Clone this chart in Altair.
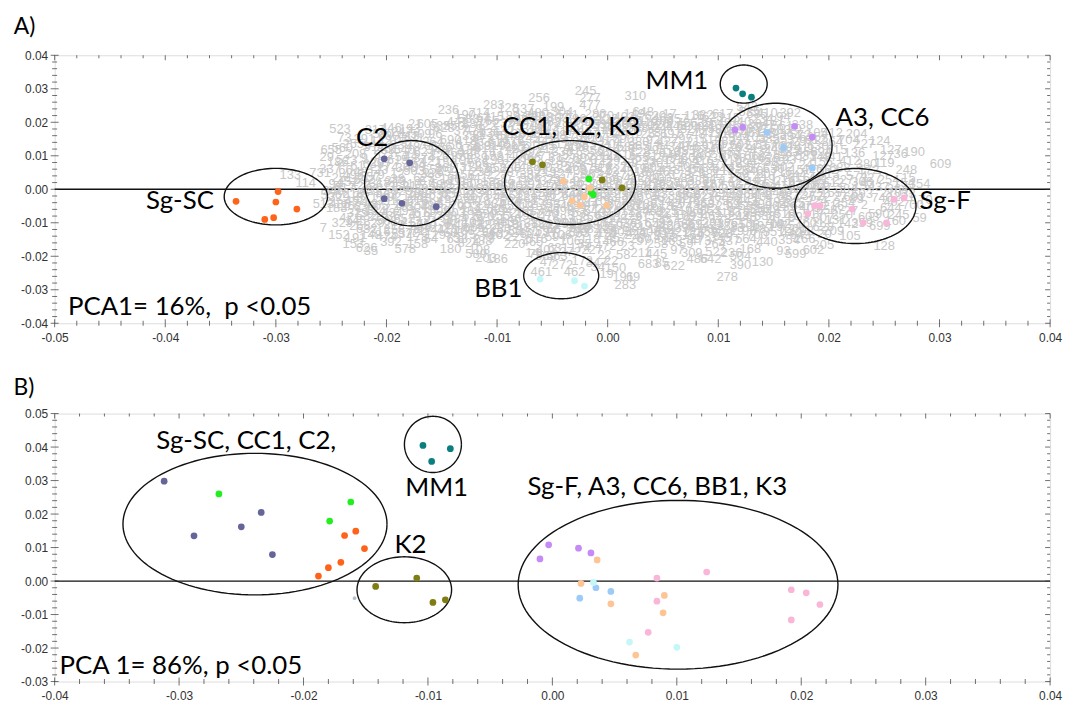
import altair as alt
import numpy as np
import pandas as pd

LABEL_FONT = "Lato"
AXIS_FONT = "Liberation Sans"
W, H = 1003, 270
TICK_COLOR = "#333333"

GROUPS = ["Sg-SC", "C2", "CC1", "K2", "K3", "BB1", "MM1", "A3", "CC6", "Sg-F", "faint"]
COLORS = ["#FF6319", "#65659A", "#22EE22", "#7E7E12", "#FDC596", "#C4F8F8",
          "#0B7F7F", "#C58AF5", "#9DCBF8", "#F9B6D8", "#B4C0CE"]

# ---------------- Panel A : coloured samples ----------------
a_grp = (["Sg-SC"] * 6 + ["C2"] * 5 + ["K2"] * 4 + ["CC1"] * 3 + ["K3"] * 6 +
         ["BB1"] * 3 + ["MM1"] * 3 + ["A3"] * 4 + ["CC6"] * 3 + ["Sg-F"] * 8)
a_x = [-0.0336, -0.0298, -0.0300, -0.0281, -0.0310, -0.0302,
       -0.0202, -0.0179, -0.0202, -0.0186, -0.0155,
       -0.0068, -0.0059, -0.0005, 0.0013,
       -0.0017, -0.0015, -0.0013,
       -0.0040, -0.0016, -0.0021, -0.0032, -0.0025, -0.0001,
       -0.0061, -0.0030, -0.0021,
       0.0116, 0.0122, 0.0130,
       0.0115, 0.0122, 0.0169, 0.0185,
       0.0144, 0.0159, 0.0185,
       0.0187, 0.0192, 0.0181, 0.0221, 0.0231, 0.0252, 0.0259, 0.0268]
a_y = [-0.0036, -0.0007, -0.0038, -0.0059, -0.0090, -0.0085,
       0.0091, 0.0079, -0.0028, -0.0042, -0.0052,
       0.0082, 0.0073, 0.0028, 0.0004,
       0.0031, -0.0009, -0.0016,
       0.0024, 0.0004, -0.0022, -0.0035, -0.0048, -0.0048,
       -0.0268, -0.0273, -0.0289,
       0.0302, 0.0285, 0.0275,
       0.0177, 0.0185, 0.0188, 0.0156,
       0.0170, 0.0124, 0.0063,
       -0.0049, -0.0049, -0.0073, -0.0059, -0.0100, -0.0100, -0.0030, -0.0026]

a_ell_name = ["Sg-SC", "C2", "CC1K2K3", "BB1", "MM1", "A3CC6", "Sg-F"]
a_ell_cx = [-0.0300, -0.0177, -0.0034, -0.0042, 0.0123, 0.0152, 0.0224]
a_ell_cy = [-0.0022, 0.0018, 0.0020, -0.0258, 0.0314, 0.0130, -0.0050]
a_ell_rx = [0.00467, 0.00428, 0.00592, 0.00339, 0.00212, 0.00509, 0.00548]
a_ell_ry = [0.00844, 0.01274, 0.01253, 0.00690, 0.00569, 0.01268, 0.01120]

a_ann_text = ["Sg-SC", "C2", "CC1, K2, K3", "BB1", "MM1", "A3, CC6", "Sg-F",
              "PCA1= 16%,\u00a0 p <0.05"]
a_ann_x = [-0.0356, -0.0213, -0.0033, -0.0077, 0.0091, 0.0206, 0.0282, -0.0488]
a_ann_y = [-0.0058, 0.0129, 0.0163, -0.0321, 0.0300, 0.0190, -0.0058, -0.0375]
a_ann_align = ["right", "center", "center", "right", "right", "left", "left", "left"]
a_panel_label = ("A)", -0.0537, 0.0463)

# ---------------- Panel A : grey sample numbers (x, y in 1/1000) ----------------
gray_top = [
    (-2.0, 29.4, "245"), (-1.6, 27.2, "277"), (-1.6, 25.0, "477"), (-6.2, 27.2, "256"), (2.5, 27.7, "310"),
    (-4.9, 24.7, "199"), (-4.1, 23.2, "304"), (-1.1, 22.5, "286"), (-10.3, 25.0, "283"), (-9.0, 24.4, "128"),
    (-7.6, 24.0, "537"), (-6.3, 22.9, "480"), (-14.4, 23.8, "236"), (-12.9, 22.3, "190"), (-11.6, 22.8, "714"),
    (-10.3, 21.6, "115"), (-8.9, 22.0, "189"), (-7.5, 21.2, "366"), (-5.9, 21.7, "108"), (-4.5, 21.3, "303"),
    (-2.9, 21.0, "296"), (-1.5, 20.4, "613"), (0.0, 21.0, "122"), (1.5, 21.6, "402"), (3.2, 23.1, "648"),
    (4.3, 21.9, "620"), (5.6, 22.6, "17"), (6.3, 21.0, "357"), (7.8, 22.0, "116"), (9.5, 21.5, "623"),
    (11.0, 21.3, "215"), (12.6, 24.7, "543"), (12.8, 23.1, "535"), (14.4, 22.8, "410"), (15.9, 21.5, "94"),
    (16.5, 22.8, "392"), (13.5, 22.4, "685"), (15.0, 20.4, "181"), (-17.4, 19.5, "21"), (-16.3, 19.5, "605"),
    (-15.2, 18.9, "635"), (-24.2, 18.1, "523"),
]
gray_row18 = [
    (-18.6, 17.2, "247"), (-16.9, 16.6, "509"), (-14.8, 18.3, "628"), (-13.3, 17.4, "37"), (-12.0, 17.8, "478"),
    (-10.7, 16.7, "136"), (-9.4, 17.3, "132"), (-8.1, 16.4, "28"), (-6.8, 18.1, "312"), (-5.4, 18.5, "203"),
    (-4.0, 17.2, "617"), (-2.4, 17.6, "147"), (-1.0, 16.1, "577"), (0.3, 18.4, "704"), (1.6, 19.2, "660"),
    (2.7, 18.2, "548"), (3.9, 18.9, "702"), (5.0, 18.2, "244"), (6.2, 18.8, "448"), (7.5, 17.9, "327"),
    (8.8, 18.5, "481"), (10.0, 18.0, "596"), (11.2, 17.3, "29"), (12.5, 18.0, "76"), (14.2, 18.2, "311"),
    (15.6, 17.6, "583"), (16.9, 18.0, "70"), (18.9, 16.8, "105"), (20.3, 16.8, "412"), (22.5, 16.5, "204"),
]
gray_row15 = [
    (-23.8, 15.3, "73"), (-22.0, 14.9, "291"), (-20.5, 14.3, "142"), (-19.0, 14.7, "107"), (-17.5, 15.2, "611"),
    (-15.8, 14.1, "264"), (-14.2, 14.8, "690"), (-12.8, 14.3, "418"), (-11.3, 15.1, "473"), (-9.9, 14.0, "619"),
    (-8.5, 14.6, "178"), (-7.1, 15.3, "245"), (-5.7, 14.4, "441"), (-4.3, 15.0, "63"), (-2.9, 14.2, "509"),
    (-1.5, 15.2, "600"), (0.0, 14.4, "317"), (1.4, 15.0, "590"), (2.8, 14.2, "380"), (4.1, 14.8, "92"),
    (5.4, 14.1, "427"), (6.7, 14.9, "297"), (8.0, 14.2, "211"), (9.3, 14.9, "514"), (10.6, 14.3, "283"),
    (11.9, 15.2, "344"), (13.3, 15.6, "705"), (14.6, 15.0, "385"), (15.9, 14.6, "353"), (17.3, 14.1, "29"),
    (18.8, 14.8, "612"), (20.3, 14.0, "364"), (21.8, 14.6, "704"), (24.6, 14.4, "124"), (23.2, 13.6, "227"),
]
gray_row12 = [
    (-23.0, 13.5, "255"), (-21.4, 12.6, "91"), (-19.9, 12.0, "461"), (-18.4, 11.6, "540"), (-16.9, 11.0, "62"),
    (-15.4, 11.6, "348"), (-13.9, 10.9, "460"), (-12.5, 11.7, "139"), (-11.1, 12.2, "612"), (-9.7, 11.3, "171"),
    (-8.3, 12.1, "497"), (-6.9, 11.0, "592"), (-5.5, 12.0, "212"), (-4.1, 11.2, "336"), (-2.7, 12.2, "470"),
    (-1.3, 11.5, "556"), (0.1, 11.1, "259"), (1.5, 11.9, "440"), (2.9, 11.0, "128"), (4.3, 11.6, "293"),
    (5.6, 10.7, "619"), (7.0, 11.5, "355"), (8.4, 10.9, "188"), (9.8, 11.7, "46"), (11.1, 11.0, "583"),
    (12.5, 12.2, "334"), (13.8, 11.4, "434"), (15.1, 11.9, "243"), (16.4, 11.0, "383"), (17.8, 12.4, "411"),
    (19.3, 11.2, "594"), (20.7, 11.6, "615"), (22.3, 10.9, "136"), (24.9, 9.9, "127"), (26.5, 10.6, "36"),
    (27.7, 11.2, "190"), (25.6, 11.6, "127"),
]
gray_row9 = [
    (-25.0, 11.6, "655"), (-25.4, 9.7, "29"), (-23.6, 8.8, "523"), (-22.0, 9.2, "9"), (-20.5, 8.0, "297"),
    (-19.0, 8.6, "615"), (-17.5, 7.8, "163"), (-16.0, 8.4, "421"), (-14.6, 7.9, "158"), (-13.1, 8.7, "195"),
    (-11.7, 7.8, "566"), (-10.3, 8.6, "293"), (-8.9, 7.5, "27"), (-7.5, 8.4, "410"), (-6.1, 7.6, "386"),
    (-4.7, 8.5, "18"), (-3.3, 7.8, "633"), (-1.9, 8.6, "220"), (-0.5, 7.8, "143"), (0.8, 8.5, "292"),
    (2.1, 7.7, "69"), (3.4, 8.4, "233"), (4.7, 7.8, "301"), (6.0, 8.6, "171"), (7.3, 7.8, "502"),
    (8.6, 8.4, "416"), (9.9, 7.6, "577"), (11.2, 8.4, "110"), (12.5, 7.9, "294"), (13.8, 8.6, "495"),
    (15.1, 8.0, "385"), (16.4, 8.8, "93"), (17.9, 7.3, "24"), (19.4, 8.2, "156"), (21.9, 8.4, "412"),
    (23.4, 7.5, "380"), (25.0, 7.9, "119"), (27.0, 5.7, "248"), (27.2, 3.3, "15"), (30.1, 7.5, "609"),
]
gray_row5 = [
    (-25.1, 6.0, "337"), (-23.7, 5.8, "66"), (-22.0, 5.1, "481"), (-20.5, 5.6, "23"), (-19.0, 4.6, "12"),
    (-17.5, 5.3, "503"), (-16.0, 4.4, "388"), (-14.5, 5.2, "659"), (-13.0, 4.3, "156"), (-11.5, 5.1, "239"),
    (-10.0, 4.2, "227"), (-8.5, 5.0, "87"), (-7.0, 4.3, "337"), (-5.6, 5.2, "219"), (-4.2, 4.4, "127"),
    (-2.8, 5.3, "408"), (-1.4, 4.4, "362"), (0.0, 5.1, "542"), (1.4, 4.3, "272"), (2.7, 5.0, "516"),
    (4.0, 4.3, "96"), (5.3, 5.1, "467"), (6.6, 4.2, "173"), (7.9, 5.0, "321"), (9.2, 4.4, "681"),
    (10.5, 5.3, "212"), (11.8, 4.5, "150"), (13.1, 5.4, "540"), (14.4, 4.6, "607"), (15.7, 5.2, "716"),
    (17.0, 4.2, "144"), (18.6, 3.5, "614"), (20.0, 4.5, "413"), (21.3, 2.8, "227"), (23.8, 3.3, "227"),
    (25.4, 2.9, "254"), (26.8, 1.9, "154"), (28.2, 1.7, "354"),
]
gray_row2 = [
    (-26.0, 4.7, "731"), (-27.3, 2.0, "114"), (-28.7, 4.3, "133"), (-23.5, 2.2, "452"), (-22.0, 2.9, "692"),
    (-20.6, 1.8, "318"), (-19.2, 2.6, "349"), (-17.8, 1.7, "110"), (-16.4, 2.5, "67"), (-15.0, 1.6, "529"),
    (-13.6, 2.4, "111"), (-12.2, 1.5, "608"), (-10.8, 2.3, "18"), (-9.4, 1.6, "349"), (-8.0, 2.5, "517"),
    (-6.6, 1.6, "92"), (-5.2, 2.4, "373"), (-3.8, 1.5, "425"), (-2.4, 2.3, "163"), (-1.0, 1.6, "71"),
    (0.4, 2.4, "392"), (1.7, 1.6, "276"), (3.0, 2.4, "650"), (4.3, 1.5, "476"), (5.6, 2.3, "558"),
    (6.9, 1.6, "702"), (8.2, 2.4, "388"), (9.5, 1.5, "187"), (10.8, 2.4, "14"), (12.1, 1.6, "27"),
    (13.4, 2.3, "497"), (14.7, 1.7, "61"), (16.0, 2.4, "276"), (17.3, 1.6, "433"), (18.8, 1.0, "184"),
    (21.6, 0.1, "384"), (24.5, 0.8, "437"),
]
gray_row_m1 = [
    (-24.8, -0.6, "245"), (-23.0, -1.3, "218"), (-21.5, -0.5, "431"), (-20.0, -1.2, "547"), (-18.6, -0.4, "529"),
    (-17.2, -1.3, "296"), (-15.8, -0.5, "147"), (-14.4, -1.3, "65"), (-13.0, -0.4, "418"), (-11.6, -1.2, "234"),
    (-10.2, -0.5, "212"), (-8.8, -1.3, "322"), (-7.4, -0.4, "601"), (-6.0, -1.2, "159"), (-4.6, -0.5, "264"),
    (-3.2, -1.3, "344"), (-1.8, -0.5, "109"), (-0.4, -1.3, "667"), (0.9, -0.4, "285"), (2.2, -1.2, "186"),
    (3.5, -0.4, "594"), (4.8, -1.3, "43"), (6.1, -0.5, "27"), (7.4, -1.3, "368"), (8.7, -0.4, "375"),
    (10.0, -1.2, "59"), (11.3, -0.5, "443"), (12.6, -1.3, "268"), (13.9, -0.5, "509"), (15.2, -1.2, "640"),
    (16.6, -0.6, "474"), (18.0, -1.3, "27"), (21.0, -2.4, "27"), (23.0, -1.3, "693"), (25.6, -1.0, "210"),
]
gray_row_m4 = [
    (-25.7, -4.4, "513"), (-24.2, -4.5, "488"), (-22.8, -3.6, "492"), (-21.4, -4.4, "43"), (-20.0, -3.6, "391"),
    (-18.6, -4.4, "24"), (-17.2, -3.5, "616"), (-15.8, -4.3, "296"), (-14.4, -3.5, "147"), (-13.0, -4.4, "65"),
    (-11.6, -3.6, "418"), (-10.2, -4.4, "234"), (-8.8, -3.5, "694"), (-7.4, -4.3, "212"), (-6.0, -3.5, "155"),
    (-4.6, -4.4, "531"), (-3.2, -3.6, "79"), (-1.8, -4.4, "344"), (-0.4, -3.5, "109"), (0.9, -4.3, "607"),
    (2.2, -3.5, "285"), (3.5, -4.4, "186"), (4.8, -3.5, "594"), (6.1, -4.3, "43"), (7.4, -3.6, "476"),
    (8.7, -4.4, "368"), (10.0, -3.5, "375"), (11.3, -4.3, "59"), (12.6, -3.5, "443"), (13.9, -4.4, "490"),
    (15.3, -3.8, "192"), (16.9, -4.2, "325"), (18.9, -3.4, "224"), (21.4, -4.2, "254"), (23.2, -4.8, "2"),
    (24.8, -2.6, "740"), (25.9, -3.7, "402"), (27.6, -4.6, "700"), (28.4, -3.2, "170"),
]
gray_row_m7 = [
    (-22.6, -7.2, "329"), (-21.0, -6.5, "124"), (-19.5, -7.2, "434"), (-18.0, -6.4, "92"), (-16.6, -7.2, "611"),
    (-15.2, -6.4, "509"), (-13.8, -7.2, "303"), (-12.4, -6.4, "182"), (-11.0, -7.3, "590"), (-9.6, -6.4, "694"),
    (-8.2, -7.2, "25"), (-6.8, -6.4, "617"), (-5.4, -7.3, "240"), (-4.0, -6.5, "598"), (-2.6, -7.2, "57"),
    (-1.2, -6.4, "544"), (0.2, -7.2, "319"), (1.5, -6.4, "612"), (2.8, -7.2, "127"), (4.1, -6.4, "463"),
    (5.4, -7.2, "221"), (6.7, -6.4, "519"), (8.0, -7.3, "49"), (9.3, -6.4, "653"), (10.6, -7.2, "116"),
    (11.9, -6.4, "275"), (13.2, -7.2, "595"), (14.6, -6.5, "348"), (16.0, -7.3, "519"), (19.8, -6.2, "658"),
    (22.0, -6.6, "27"), (24.5, -7.3, "590"), (26.3, -7.6, "245"), (28.2, -8.5, "59"),
]
gray_row_m10 = [
    (-24.0, -10.2, "329"), (-22.4, -11.0, "268"), (-20.8, -10.2, "29"), (-19.3, -10.8, "212"), (-17.8, -9.8, "417"),
    (-16.4, -10.7, "710"), (-15.0, -9.9, "134"), (-13.6, -10.7, "646"), (-12.2, -9.9, "102"), (-10.8, -10.8, "382"),
    (-9.4, -9.8, "463"), (-8.0, -10.7, "60"), (-6.6, -10.0, "382"), (-5.2, -10.8, "222"), (-3.8, -10.1, "290"),
    (-2.4, -10.9, "466"), (-1.0, -10.2, "247"), (0.4, -10.9, "350"), (1.7, -10.2, "636"), (3.0, -10.9, "219"),
    (4.3, -10.2, "659"), (5.6, -11.0, "420"), (6.9, -10.2, "54"), (8.2, -11.0, "614"), (9.5, -10.2, "201"),
    (10.8, -11.0, "288"), (12.1, -10.2, "613"), (13.5, -11.1, "19"), (15.0, -10.4, "709"), (16.6, -11.0, "754"),
    (20.6, -9.2, "131"), (21.7, -10.3, "142"), (23.0, -10.2, "359"),
]
gray_row_m13 = [
    (-25.7, -11.6, "7"), (-24.3, -13.6, "152"), (-22.8, -14.5, "191"), (-21.4, -13.7, "148"), (-20.0, -14.4, "474"),
    (-18.6, -13.4, "532"), (-17.2, -12.6, "71"), (-15.4, -12.3, "44"), (-13.9, -13.0, "603"), (-12.5, -13.6, "75"),
    (-11.1, -12.7, "294"), (-9.8, -13.8, "102"), (-8.4, -12.4, "52"), (-7.0, -13.4, "604"), (-5.6, -12.6, "594"),
    (-4.2, -13.6, "106"), (-2.8, -12.8, "290"), (-1.6, -11.8, "382"), (-0.2, -13.6, "474"), (1.2, -12.8, "605"),
    (2.5, -13.6, "229"), (3.8, -12.8, "408"), (5.1, -13.6, "232"), (6.4, -12.8, "421"), (7.7, -13.6, "164"),
    (9.0, -12.8, "359"), (10.3, -13.3, "700"), (11.7, -12.6, "19"), (13.5, -13.8, "700"), (15.2, -11.3, "19"),
    (16.6, -13.0, "440"), (18.0, -12.4, "98"), (19.6, -13.5, "20"), (21.9, -14.1, "105"),
]
gray_row_m16 = [
    (-23.0, -16.4, "153"), (-21.8, -17.4, "626"), (-21.4, -18.4, "35"), (-17.2, -14.3, "178"), (-17.2, -16.2, "158"),
    (-18.3, -17.7, "578"), (-14.0, -14.5, "75"), (-14.2, -17.7, "180"), (-12.6, -16.0, "824"), (-11.4, -15.5, "188"),
    (-9.8, -13.8, "102"), (-8.6, -14.3, "22"), (-8.4, -16.4, "220"), (-6.8, -15.8, "465"), (-4.7, -14.3, "594"),
    (-3.4, -15.5, "106"), (-2.1, -16.3, "35"), (-0.2, -17.0, "472"), (1.8, -17.0, "23"), (0.5, -15.8, "466"),
    (3.2, -15.6, "97"), (4.5, -16.3, "258"), (5.8, -15.5, "163"), (7.1, -16.2, "59"), (8.4, -15.6, "473"),
    (9.7, -16.3, "264"), (11.0, -15.6, "337"), (12.9, -17.7, "168"), (16.4, -15.3, "354"), (14.4, -15.9, "440"),
    (19.5, -16.5, "205"), (25.0, -17.0, "128"),
]
gray_bottom = [
    (-11.9, -19.2, "589"), (-11.0, -20.4, "203"), (-10.0, -20.7, "186"), (-11.6, -18.0, "108"), (-6.8, -19.0, "14"),
    (-5.6, -20.0, "389"), (-4.6, -20.0, "563"), (-6.5, -19.2, "76"), (-5.5, -18.1, "407"), (-4.5, -17.6, "631"),
    (-3.4, -18.6, "272"), (-2.5, -17.6, "174"), (-1.4, -18.1, "227"), (-0.3, -19.6, "22"), (1.4, -19.6, "58"),
    (0.7, -23.6, "150"), (1.4, -26.1, "191"), (2.3, -26.1, "69"), (1.6, -28.6, "283"), (-0.9, -23.2, "34"),
    (-2.3, -21.3, "172"), (-4.1, -22.7, "272"), (-5.5, -21.6, "47"), (-6.0, -24.7, "461"), (-3.0, -24.7, "462"),
    (-1.0, -22.0, "347"), (0.3, -21.3, "22"), (3.7, -22.2, "683"), (4.9, -21.9, "85"), (8.1, -20.7, "486"),
    (9.3, -20.7, "642"), (12.0, -19.9, "504"), (12.0, -22.7, "390"), (14.0, -21.7, "130"), (6.0, -23.0, "622"),
    (10.8, -26.1, "278"), (3.0, -18.9, "211"), (4.4, -19.4, "445"), (6.3, -18.2, "97"), (7.6, -19.0, "309"),
    (9.8, -18.8, "522"), (11.2, -19.0, "236"), (15.9, -18.4, "93"), (17.0, -19.4, "599"), (18.6, -18.2, "602"),
    (-0.1, -25.3, "19"),
]
gray_core_a = [
    (-13.6, 20.1, "441"), (-12.2, 19.6, "387"), (-10.8, 20.3, "165"), (-9.4, 19.7, "232"), (-8.0, 20.2, "614"),
    (-6.6, 19.6, "79"), (-5.2, 20.1, "563"), (-3.8, 19.7, "288"), (-2.4, 20.3, "94"), (-1.0, 19.6, "151"),
    (0.8, 20.2, "437"), (2.2, 20.4, "585"), (3.6, 20.0, "319"), (5.0, 20.5, "206"), (6.8, 19.8, "72"),
    (8.4, 19.7, "635"), (10.2, 19.9, "549"), (12.0, 20.0, "340"), (13.6, 19.6, "264"),
    (-20.3, 16.4, "580"), (-18.0, 15.8, "413"), (-15.6, 16.6, "96"), (-12.2, 16.0, "352"), (-9.8, 15.9, "261"),
    (-7.0, 16.8, "530"), (-4.7, 16.3, "188"), (-1.8, 16.7, "607"), (0.9, 16.5, "344"), (3.3, 16.6, "125"),
    (5.7, 16.4, "697"), (8.2, 16.6, "48"), (10.6, 16.4, "318"), (13.0, 16.7, "451"), (15.2, 16.4, "223"),
    (17.4, 16.3, "572"),
    (-21.2, 13.3, "145"), (-18.7, 13.2, "339"), (-16.3, 12.9, "706"), (-13.8, 13.2, "56"), (-11.5, 13.0, "289"),
    (-9.1, 13.3, "401"), (-6.7, 13.0, "613"), (-4.4, 13.4, "117"), (-2.0, 13.1, "533"), (0.4, 13.4, "204"),
    (2.8, 13.0, "365"), (5.0, 13.3, "81"), (7.3, 13.0, "476"), (9.6, 13.3, "139"), (12.0, 13.1, "602"),
    (14.3, 13.2, "517"), (16.5, 12.9, "248"), (19.0, 13.0, "630"),
    (-22.8, 10.4, "208"), (-20.2, 10.3, "571"), (-17.8, 10.0, "44"), (-15.2, 9.9, "327"), (-12.8, 10.1, "668"),
    (-10.4, 9.8, "192"), (-8.0, 10.0, "405"), (-5.6, 9.8, "71"), (-3.2, 10.1, "559"), (-0.8, 9.8, "288"),
    (1.6, 10.1, "616"), (3.9, 9.8, "31"), (6.3, 10.0, "452"), (8.6, 9.8, "207"), (11.0, 10.1, "378"),
    (13.3, 9.9, "662"), (15.6, 10.2, "89"), (17.9, 9.9, "533"), (20.3, 9.7, "441"),
    (-22.3, 6.8, "612"), (-19.9, 6.5, "174"), (-17.4, 6.6, "499"), (-15.0, 6.3, "86"), (-12.5, 6.6, "311"),
    (-10.1, 6.3, "658"), (-7.7, 6.6, "142"), (-5.3, 6.3, "403"), (-2.9, 6.6, "266"), (-0.6, 6.3, "519"),
    (1.8, 6.6, "77"), (4.1, 6.3, "605"), (6.5, 6.6, "230"), (8.8, 6.3, "384"), (11.2, 6.6, "149"),
    (13.5, 6.3, "571"), (15.9, 6.6, "302"), (18.5, 6.1, "426"), (21.0, 6.4, "688"), (23.6, 5.8, "172"),
]
gray_core_b = [
    (-24.0, 3.4, "251"), (-21.5, 3.6, "557"), (-19.0, 3.1, "38"), (-16.6, 3.3, "623"), (-14.2, 3.0, "190"),
    (-11.8, 3.3, "441"), (-9.4, 3.0, "8"), (-7.0, 3.3, "596"), (-4.6, 3.0, "231"), (-2.2, 3.3, "689"),
    (0.1, 3.0, "154"), (2.4, 3.3, "412"), (4.8, 3.0, "300"), (7.2, 3.3, "83"), (9.5, 3.0, "547"),
    (11.9, 3.3, "266"), (14.2, 3.0, "619"), (16.6, 3.3, "131"), (19.0, 2.8, "491"), (23.0, 2.2, "306"),
    (-23.8, 0.5, "617"), (-21.3, 0.2, "26"), (-18.9, 0.6, "368"), (-16.5, 0.1, "593"), (-14.1, 0.5, "134"),
    (-11.7, 0.2, "468"), (-9.3, 0.6, "251"), (-6.9, 0.1, "672"), (-4.5, 0.5, "97"), (-2.1, 0.2, "436"),
    (0.2, 0.6, "211"), (2.6, 0.1, "588"), (4.9, 0.5, "62"), (7.3, 0.2, "319"), (9.6, 0.6, "504"),
    (12.0, 0.1, "177"), (14.3, 0.5, "646"), (16.7, 0.1, "285"), (19.3, 0.4, "437"), (22.8, 0.9, "15"),
    (26.2, 0.2, "364"),
    (-24.3, -2.4, "329"), (-21.8, -2.7, "571"), (-19.3, -2.3, "92"), (-16.9, -2.7, "418"), (-14.5, -2.3, "263"),
    (-12.1, -2.7, "607"), (-9.7, -2.3, "45"), (-7.3, -2.7, "389"), (-4.9, -2.3, "512"), (-2.5, -2.7, "170"),
    (-0.1, -2.3, "633"), (2.3, -2.7, "289"), (4.6, -2.3, "53"), (7.0, -2.7, "478"), (9.3, -2.3, "216"),
    (11.7, -2.7, "661"), (14.0, -2.3, "104"), (16.4, -2.7, "354"), (19.2, -2.2, "572"), (26.8, -2.2, "221"),
    (-24.5, -5.7, "183"), (-22.0, -5.4, "639"), (-19.6, -5.8, "77"), (-17.2, -5.4, "504"), (-14.8, -5.8, "236"),
    (-12.4, -5.4, "412"), (-10.0, -5.8, "695"), (-7.6, -5.4, "118"), (-5.2, -5.8, "347"), (-2.8, -5.4, "581"),
    (-0.4, -5.8, "26"), (2.0, -5.4, "463"), (4.3, -5.8, "195"), (6.7, -5.4, "627"), (9.0, -5.8, "312"),
    (11.4, -5.4, "84"), (13.7, -5.8, "556"), (16.1, -5.4, "239"), (18.3, -5.6, "403"), (25.6, -5.7, "644"),
]
gray_core_c = [
    (-23.3, -8.7, "471"), (-20.8, -8.4, "219"), (-18.4, -8.8, "652"), (-16.0, -8.4, "37"), (-13.6, -8.8, "384"),
    (-11.2, -8.4, "570"), (-8.8, -8.8, "146"), (-6.4, -8.4, "411"), (-4.0, -8.8, "683"), (-1.6, -8.4, "259"),
    (0.8, -8.8, "508"), (3.1, -8.4, "91"), (5.5, -8.8, "337"), (7.8, -8.4, "621"), (10.2, -8.8, "178"),
    (12.5, -8.4, "446"), (14.9, -8.8, "20"), (17.3, -8.4, "593"), (19.5, -8.6, "307"), (26.0, -9.6, "160"),
    (-21.8, -11.9, "632"), (-19.3, -12.2, "258"), (-16.9, -11.6, "469"), (-14.5, -11.9, "113"), (-12.1, -11.6, "605"),
    (-9.7, -11.9, "280"), (-7.3, -11.6, "437"), (-4.9, -11.9, "66"), (-2.5, -11.6, "519"), (-0.1, -11.9, "224"),
    (2.3, -11.6, "674"), (4.6, -11.9, "143"), (7.0, -11.6, "396"), (9.3, -11.9, "582"), (11.7, -11.6, "33"),
    (14.0, -11.9, "487"), (17.0, -11.8, "201"), (19.5, -11.2, "628"),
    (-19.6, -15.7, "392"), (-16.0, -15.0, "54"), (-13.6, -14.8, "638"), (-11.2, -14.9, "279"), (-6.4, -14.8, "516"),
    (-1.6, -14.8, "118"), (0.8, -14.6, "457"), (3.0, -14.9, "260"), (5.4, -14.6, "613"), (7.8, -14.9, "99"),
    (10.2, -14.6, "345"), (12.5, -15.0, "564"), (17.8, -14.8, "266"),
]
gray_core_d = [
    (-12.6, 21.0, "583"), (-11.2, 21.2, "64"), (-8.2, 20.8, "417"), (-6.6, 21.9, "298"), (-3.6, 22.1, "531"),
    (-0.4, 21.8, "270"), (2.4, 22.4, "149"), (5.0, 21.4, "463"), (8.6, 22.3, "382"), (10.4, 22.5, "617"),
    (14.0, 21.0, "234"),
    (-19.6, 18.4, "446"), (-17.9, 18.0, "193"), (-13.9, 18.9, "350"), (-11.0, 18.9, "622"), (-8.6, 18.9, "175"),
    (-6.0, 19.3, "407"), (-3.2, 18.7, "86"), (-0.4, 19.3, "338"), (2.2, 19.7, "509"), (4.6, 19.4, "126"),
    (7.2, 19.0, "690"), (9.4, 19.2, "213"), (11.6, 18.8, "455"), (13.4, 18.6, "39"), (15.8, 19.0, "561"),
    (17.6, 19.3, "238"),
    (-21.0, 17.6, "317"), (-19.8, 16.0, "630"), (-11.6, 16.2, "82"), (-8.8, 15.8, "549"), (-6.0, 16.6, "216"),
    (-3.2, 16.0, "370"), (-0.2, 17.2, "142"), (2.2, 17.0, "605"), (4.5, 16.9, "281"), (6.9, 16.5, "57"),
    (9.4, 16.9, "419"), (11.8, 16.6, "663"), (14.2, 16.9, "118"), (16.5, 16.0, "394"), (18.3, 15.7, "625"),
    (-24.0, 12.4, "560"), (-20.2, 11.8, "233"), (-17.6, 12.7, "48"), (-15.0, 12.5, "586"), (-12.6, 12.6, "174"),
    (-10.2, 12.8, "319"), (-7.8, 12.7, "652"), (-5.4, 12.8, "95"), (-3.0, 12.6, "408"), (-0.6, 12.8, "271"),
    (1.8, 12.6, "534"), (4.2, 12.5, "17"), (6.4, 12.7, "348"), (8.8, 12.5, "691"), (11.2, 12.6, "226"),
    (13.4, 12.8, "573"), (15.7, 12.6, "309"), (18.0, 11.2, "456"),
    (-24.4, 8.2, "186"), (-21.2, 7.6, "639"), (-18.6, 9.6, "52"), (-16.6, 9.2, "374"), (-14.0, 9.4, "617"),
    (-11.8, 9.4, "239"), (-9.4, 9.2, "81"), (-7.0, 9.3, "566"), (-4.4, 9.2, "312"), (-2.2, 9.4, "697"),
    (0.2, 9.2, "144"), (2.8, 9.3, "455"), (5.2, 9.2, "263"), (7.6, 9.4, "508"), (10.0, 9.2, "35"),
    (12.2, 9.3, "381"), (14.6, 9.4, "626"), (17.0, 9.7, "272"), (19.2, 9.6, "148"),
    (-23.0, 4.2, "498"), (-20.8, 4.2, "79"), (-18.2, 6.2, "306"), (-15.8, 5.8, "652"), (-13.6, 5.9, "117"),
    (-11.0, 5.9, "435"), (-8.8, 6.1, "260"), (-6.4, 5.8, "591"), (-4.0, 5.9, "33"), (-1.6, 6.0, "378"),
    (0.8, 5.8, "624"), (3.2, 5.9, "198"), (5.6, 5.8, "413"), (8.0, 5.9, "67"), (10.4, 6.0, "549"),
    (12.6, 6.0, "285"), (15.0, 5.9, "630"), (17.4, 5.6, "157"), (19.9, 5.8, "362"), (22.5, 4.0, "574"),
]
gray_core_e = [
    (-24.6, 1.6, "94"), (-22.4, 1.0, "327"), (-20.0, 1.2, "671"), (-17.6, 1.0, "215"), (-15.2, 1.2, "482"),
    (-12.8, 1.0, "39"), (-10.4, 1.2, "366"), (-8.0, 1.0, "603"), (-5.6, 1.2, "147"), (-3.2, 1.0, "529"),
    (-0.8, 1.2, "284"), (1.6, 1.0, "642"), (4.0, 1.2, "108"), (6.4, 1.0, "457"), (8.8, 1.2, "231"),
    (11.2, 1.0, "596"), (13.6, 1.2, "73"), (16.0, 1.0, "419"), (18.2, 1.4, "266"), (20.4, 1.8, "612"),
    (23.5, 1.6, "43"),
    (-25.0, -1.8, "556"), (-22.4, -1.9, "20"), (-20.0, -1.8, "463"), (-17.6, -1.9, "198"), (-15.2, -1.8, "637"),
    (-12.8, -1.9, "341"), (-10.4, -1.8, "85"), (-8.0, -1.9, "512"), (-5.6, -1.8, "276"), (-3.2, -1.9, "609"),
    (-0.8, -1.8, "152"), (1.6, -1.9, "438"), (4.0, -1.8, "61"), (6.4, -1.9, "395"), (8.8, -1.8, "627"),
    (11.2, -1.9, "249"), (13.6, -1.8, "514"), (16.0, -1.9, "88"), (18.5, -2.0, "372"), (20.2, -1.0, "155"),
    (22.3, -2.2, "601"), (27.2, -1.4, "33"),
    (-23.2, -4.9, "262"), (-20.8, -5.0, "605"), (-18.4, -4.9, "131"), (-16.0, -5.0, "487"), (-13.6, -4.9, "70"),
    (-11.2, -5.0, "324"), (-8.8, -4.9, "659"), (-6.4, -5.0, "213"), (-4.0, -4.9, "546"), (-1.6, -5.0, "97"),
    (0.8, -4.9, "371"), (3.2, -5.0, "618"), (5.6, -4.9, "182"), (8.0, -5.0, "433"), (10.4, -4.9, "25"),
    (12.8, -5.0, "569"), (15.2, -4.9, "304"), (17.5, -5.0, "647"), (20.4, -4.9, "216"), (22.5, -3.0, "89"),
    (-21.8, -7.9, "582"), (-19.4, -8.0, "36"), (-17.0, -7.9, "419"), (-14.6, -8.0, "268"), (-12.2, -7.9, "613"),
    (-9.8, -8.0, "155"), (-7.4, -7.9, "497"), (-5.0, -8.0, "72"), (-2.6, -7.9, "338"), (-0.2, -8.0, "681"),
    (2.2, -7.9, "226"), (4.6, -8.0, "554"), (7.0, -7.9, "109"), (9.4, -8.0, "462"), (11.8, -7.9, "293"),
    (14.2, -8.0, "638"), (16.6, -7.9, "41"), (18.6, -7.4, "517"), (21.2, -7.6, "250"), (23.6, -8.4, "603"),
    (-22.8, -9.6, "145"), (-20.0, -9.5, "508"), (-17.0, -10.9, "283"), (-14.2, -10.3, "67"), (-11.6, -10.6, "432"),
    (-9.0, -10.4, "619"), (-6.0, -10.5, "188"), (-3.2, -10.4, "545"), (-0.4, -10.6, "304"), (2.4, -10.4, "73"),
    (5.0, -10.6, "418"), (7.6, -10.5, "669"), (10.2, -10.4, "237"), (12.8, -10.6, "506"), (15.6, -10.3, "142"),
    (18.6, -10.2, "601"), (24.6, -11.0, "699"),
    (-20.6, -12.9, "316"), (-18.0, -13.0, "572"), (-15.6, -13.6, "129"), (-13.0, -12.6, "406"), (-10.4, -13.2, "662"),
    (-7.8, -13.0, "245"), (-5.2, -13.2, "37"), (-2.6, -13.0, "583"), (0.0, -13.2, "191"), (2.6, -13.0, "447"),
    (5.2, -13.2, "613"), (7.8, -13.0, "276"), (10.4, -13.2, "528"), (12.8, -12.6, "96"), (15.0, -12.8, "351"),
    (17.4, -13.6, "643"), (20.4, -12.4, "209"),
]

# ---------------- Panel B ----------------
b_grp = (["C2"] * 5 + ["CC1"] * 3 + ["Sg-SC"] * 6 + ["K2"] * 4 + ["MM1"] * 3 + ["A3"] * 4 +
         ["K3"] * 6 + ["CC6"] * 3 + ["BB1"] * 3 + ["Sg-F"] * 8)
b_x = [-0.0312, -0.0288, -0.0250, -0.0234, -0.0225,
       -0.0268, -0.0162, -0.0179,
       -0.0167, -0.0158, -0.0151, -0.0170, -0.0180, -0.0188,
       -0.0142, -0.0109, -0.0096, -0.0086,
       -0.0104, -0.0097, -0.0082,
       -0.0003, -0.0010, 0.0021, 0.0031,
       0.0036, 0.0023, 0.0047, 0.0090, 0.0089, 0.0067,
       0.0035, 0.0047, 0.0022,
       0.0033, 0.0062, 0.0100,
       0.0124, 0.0084, 0.0084, 0.0077, 0.0192, 0.0204, 0.0215, 0.0192]
b_y = [0.0298, 0.0135, 0.0162, 0.0205, 0.0079,
       0.0260, 0.0236, 0.0179,
       0.0136, 0.0149, 0.0097, 0.0056, 0.0040, 0.0015,
       -0.0016, 0.0009, -0.0064, -0.0056,
       0.0405, 0.0357, 0.0395,
       0.0108, 0.0066, 0.0098, 0.0084,
       0.0063, -0.0007, -0.0068, -0.0043, -0.0095, -0.0221,
       -0.0020, -0.0031, -0.0051,
       -0.0004, -0.0182, -0.0198,
       0.0027, 0.0009, -0.0060, -0.0153, -0.0026, -0.0035, -0.0070, -0.0116]
b_faint_x = [-0.0159]
b_faint_y = [-0.0051]

b_ell_name = ["left", "K2", "MM1", "right"]
b_ell_cx = [-0.0239, -0.0119, -0.0096, 0.0101]
b_ell_cy = [0.0170, -0.0026, 0.0408, -0.0011]
b_ell_rx = [0.01061, 0.00380, 0.00229, 0.01285]
b_ell_ry = [0.02113, 0.00984, 0.00839, 0.02519]

b_ann_text = ["Sg-SC, CC1, C2,", "MM1", "K2", "Sg-F, A3, CC6, BB1, K3", "PCA 1= 86%, p <0.05"]
b_ann_x = [-0.0246, -0.0093, -0.0114, -0.0020, -0.0396]
b_ann_y = [0.0395, 0.0253, 0.0085, 0.0258, -0.0278]
b_ann_align = ["center", "center", "center", "left", "left"]
b_panel_label = ("B)", -0.0433, 0.0555)


# ---------------- helpers ----------------
def clean(v):
    return float(np.round(v, 4)) + 0.0


def ellipse_df(names, cxs, cys, rxs, rys):
    t = np.linspace(0, 2 * np.pi, 121)
    rows = []
    for n, cx, cy, rx, ry in zip(names, cxs, cys, rxs, rys):
        for i, tt in enumerate(t):
            rows.append({"name": n, "i": i, "x": cx + rx * np.cos(tt), "y": cy + ry * np.sin(tt)})
    return pd.DataFrame(rows)


def tick_values(lo, hi, step):
    n = int(round((hi - lo) / step))
    return [clean(lo + k * step) for k in range(n + 1)]


def panel(plabel, xdom, ydom, pts, ells, anns, gray=None, faint=None):
    xmaj = tick_values(xdom[0], xdom[1], 0.01)
    ymaj = tick_values(ydom[0], ydom[1], 0.01)
    xmin_ = [v for v in tick_values(xdom[0], xdom[1], 0.002) if v not in xmaj]
    ymin_ = [v for v in tick_values(ydom[0], ydom[1], 0.002) if v not in ymaj]

    label_expr = "replace(format(datum.value, '.2f'), '\u2212', '-')"
    AX = alt.Axis(values=xmaj, labelExpr=label_expr, ticks=False, tickSize=0, domain=False,
                  grid=False, title=None, labelFont=AXIS_FONT, labelFontSize=12,
                  labelColor="#333333", labelPadding=9, labelFlush=False,
                  labelOverlap=False, labelBound=False)
    AY = alt.Axis(values=ymaj, labelExpr=label_expr, ticks=False, tickSize=0, domain=False,
                  grid=False, title=None, labelFont=AXIS_FONT, labelFontSize=12,
                  labelColor="#333333", labelPadding=7, labelFlush=False,
                  labelOverlap=False, labelBound=False, minExtent=41, maxExtent=41)
    SX = alt.Scale(domain=list(xdom), nice=False, zero=False)
    SY = alt.Scale(domain=list(ydom), nice=False, zero=False)
    X = alt.X("x:Q", scale=SX, axis=AX)
    Y = alt.Y("y:Q", scale=SY, axis=AY)

    def xd(v):
        return alt.XDatum(v, type="quantitative", scale=SX, axis=AX)

    def yd(v):
        return alt.YDatum(v, type="quantitative", scale=SY, axis=AY)

    layers = []
    zero = alt.Chart(pd.DataFrame({"x": [xdom[0]]})).mark_rule(
        color="#111111", strokeWidth=1.3).encode(y=yd(0.0))
    layers.append(zero)

    if gray is not None:
        layers.append(alt.Chart(gray).mark_text(
            font=AXIS_FONT, fontSize=13, color="#C8C8C8", align="center",
            baseline="middle").encode(x=X, y=Y, text="t:N"))

    layers.append(alt.Chart(ells).mark_line(color="#111111", strokeWidth=1.4).encode(
        x=X, y=Y, detail="name:N", order="i:Q"))

    if faint is not None:
        layers.append(alt.Chart(faint).mark_circle(size=14, opacity=1, color="#B4C0CE").encode(x=X, y=Y))

    layers.append(alt.Chart(pts).mark_circle(size=46, opacity=1).encode(
        x=X, y=Y,
        color=alt.Color("g:N", scale=alt.Scale(domain=GROUPS, range=COLORS), legend=None)))

    for al in ["left", "center", "right"]:
        sub = anns[anns["align"] == al]
        if len(sub):
            layers.append(alt.Chart(sub).mark_text(
                font=LABEL_FONT, fontSize=26, color="black", align=al,
                baseline="alphabetic").encode(x=X, y=Y, text="t:N"))

    pl = pd.DataFrame({"t": [plabel[0]], "x": [plabel[1]], "y": [plabel[2]]})
    layers.append(alt.Chart(pl).mark_text(
        font=LABEL_FONT, fontSize=23, color="black", align="left",
        baseline="alphabetic").encode(x=X, y=Y, text="t:N"))

    # frame ticks
    def vt(vals, ypos, size, off):
        return alt.Chart(pd.DataFrame({"x": vals})).mark_tick(
            orient="vertical", size=size, thickness=1, color=TICK_COLOR, yOffset=off).encode(
            x=X, y=yd(ypos))

    def ht(vals, xpos, size, off):
        return alt.Chart(pd.DataFrame({"y": vals})).mark_tick(
            orient="horizontal", size=size, thickness=1, color=TICK_COLOR, xOffset=off).encode(
            y=Y, x=xd(xpos))

    layers += [
        vt(xmaj, ydom[0], 8, 0), vt(xmin_, ydom[0], 5, 0),
        vt(xmaj, ydom[1], 5, 2.5), vt(xmin_, ydom[1], 3, 1.5),
        ht(ymaj, xdom[0], 8, 0), ht(ymin_, xdom[0], 5, 0),
        ht(ymaj, xdom[1], 5, -2.5), ht(ymin_, xdom[1], 3, -1.5),
    ]

    return alt.layer(*layers).properties(width=W, height=H)


# ---------------- tables ----------------
a_pts = pd.DataFrame({"x": a_x, "y": a_y, "g": a_grp})
a_ells = ellipse_df(a_ell_name, a_ell_cx, a_ell_cy, a_ell_rx, a_ell_ry)
a_anns = pd.DataFrame({"x": a_ann_x, "y": a_ann_y, "t": a_ann_text, "align": a_ann_align})
gray_all = (gray_top + gray_row18 + gray_row15 + gray_row12 + gray_row9 + gray_row5 + gray_row2 +
            gray_row_m1 + gray_row_m4 + gray_row_m7 + gray_row_m10 + gray_row_m13 + gray_row_m16 +
            gray_bottom + gray_core_a + gray_core_b + gray_core_c + gray_core_d + gray_core_e)
a_gray = pd.DataFrame({"x": [g[0] / 1000 for g in gray_all],
                       "y": [g[1] / 1000 for g in gray_all],
                       "t": [g[2] for g in gray_all]})

b_pts = pd.DataFrame({"x": b_x, "y": b_y, "g": b_grp})
b_ells = ellipse_df(b_ell_name, b_ell_cx, b_ell_cy, b_ell_rx, b_ell_ry)
b_anns = pd.DataFrame({"x": b_ann_x, "y": b_ann_y, "t": b_ann_text, "align": b_ann_align})
b_faint = pd.DataFrame({"x": b_faint_x, "y": b_faint_y})

pA = panel(a_panel_label, (-0.05, 0.04), (-0.04, 0.04), a_pts, a_ells, a_anns, gray=a_gray)
pB = panel(b_panel_label, (-0.04, 0.04), (-0.03, 0.05), b_pts, b_ells, b_anns, faint=b_faint)

chart = alt.vconcat(pA, pB, spacing=32).resolve_scale(
    x="independent", y="independent", color="shared").properties(
    padding={"left": 5, "top": 5, "right": 0, "bottom": 0}).configure_view(
    stroke="#333333", strokeWidth=1.2).configure(background="white")

chart.save("out.html", embed_options={"renderer": "svg", "actions": False})
